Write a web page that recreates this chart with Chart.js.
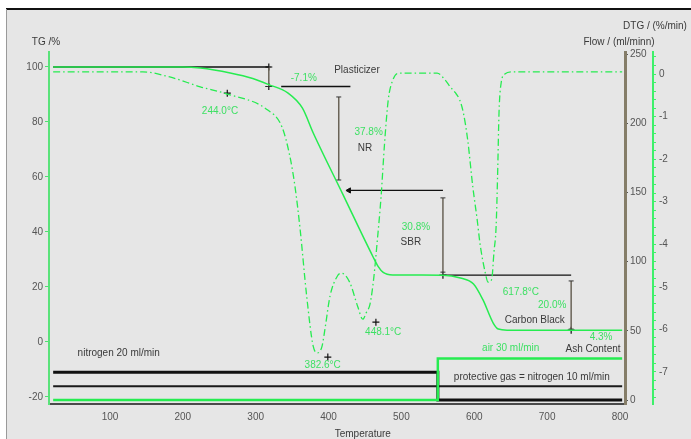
<!DOCTYPE html>
<html>
<head>
<meta charset="utf-8">
<script src="https://cdn.jsdelivr.net/npm/chart.js@4.4.1/dist/chart.umd.min.js"></script>
<style>
  html, body { margin: 0; padding: 0; background: #fff; }
</style>
</head>
<body>
<canvas id="tga" width="691" height="439"></canvas>
<script>
// TG curve (temperature °C, mass %)
const tgTemp = [22, 200, 224, 265, 296, 318, 344, 364, 379, 420, 461, 468, 475, 488, 557, 581, 599, 612, 626, 633, 645, 803];
const tgMass = [100, 100, 99.6, 97.8, 95.8, 93.6, 90.6, 85.1, 76.0, 53.5, 31.0, 27.5, 25.3, 24.4, 24.3, 23.3, 21.1, 15.3, 6.9, 4.7, 4.3, 4.3];

// DTG curve (temperature °C, %/min)
const dtgTemp = [22, 86, 145, 182, 224, 261, 316, 336, 347, 354, 361, 370, 379, 385, 391, 395, 402, 412, 418, 429, 440, 447, 452, 457, 462, 467, 472, 477, 482, 488, 496, 549, 560, 567, 574, 580, 585, 591, 598, 604, 608, 615, 619, 624, 627, 630, 632, 634, 637, 642, 652, 803];
const dtgRate = [0.05, 0.05, 0.05, -0.07, -0.3, -0.47, -0.84, -1.24, -1.94, -2.65, -3.65, -5.22, -6.4, -6.55, -6.4, -6.0, -5.22, -4.75, -4.68, -4.89, -5.46, -5.76, -5.6, -5.4, -4.8, -3.9, -2.9, -1.6, -0.6, -0.15, 0.02, 0.02, -0.14, -0.3, -0.44, -0.61, -0.91, -1.55, -2.65, -3.42, -4.0, -4.66, -4.89, -4.82, -4.19, -3.58, -2.4, -0.9, -0.2, 0.0, 0.05, 0.05];

// purge gas flows (ml/min)
const gasTemp = [22, 550, 550, 803];
const nitrogen20 = [20, 20, 0, 0];
const air30 = [0, 0, 30, 30];
const protTemp = [22, 803];
const nitrogen10 = [10, 10];

// step evaluation (temperature, mass %)
const levelLines = [[[22, 100], [318, 100]], [[335, 92.9], [430, 92.9]], [[428, 55.1], [557, 55.1]], [[557, 24.3], [733, 24.3]]];
const stepLines = [[[318, 100], [318, 92.9]], [[414, 89.1], [414, 58.9]], [[557, 52.4], [557, 25.4]], [[733, 22.2], [733, 4.7]]];
const stepMarks = [[318, 100], [318, 92.9], [557, 24.3], [733, 4.3]];
const peakMarks = [[261, -0.45], [399, -6.65], [465, -5.83]];

// tick values
const tempTicks = [100, 200, 300, 400, 500, 600, 700, 800];
const tgTicks = [-20, 0, 20, 40, 60, 80, 100];
const flowTicks = [0, 50, 100, 150, 200, 250];
const dtgTicks = [0.4, 0.2, 0, -0.2, -0.4, -0.6, -0.8, -1, -1.2, -1.4, -1.6, -1.8, -2, -2.2, -2.4, -2.6, -2.8, -3, -3.2, -3.4, -3.6, -3.8, -4, -4.2, -4.4, -4.6, -4.8, -5, -5.2, -5.4, -5.6, -5.8, -6, -6.2, -6.4, -6.6, -6.8, -7, -7.2, -7.4, -7.6];

// texts: [text, temperature, mass %, green?]
const notes = [
  ['-7.1%', 366, 96.0, true],
  ['Plasticizer', 439, 98.9, false],
  ['37.8%', 455, 76.4, true],
  ['NR', 450, 70.5, false],
  ['30.8%', 520, 41.8, true],
  ['SBR', 513, 36.4, false],
  ['617.8°C', 664, 18.2, true],
  ['20.0%', 707, 13.5, true],
  ['Carbon Black', 683, 8.0, false],
  ['4.3%', 774, 1.8, true],
  ['Ash Content', 763, -2.5, false],
  ['244.0°C', 251, 84.0, true],
  ['382.6°C', 392, -8.4, true],
  ['448.1°C', 475, 3.6, true],
  ['nitrogen 20 ml/min', 112, -4.0, false],
  ['air 30 ml/min', 650, -2.2, true],
  ['protective gas = nitrogen 10 ml/min', 679, -12.7, false]
];

const GREEN = '#26ec50';
const GREEN_TEXT = '#3ee064';
const DARK = '#3a3a3a';
const FONT = '10px "Liberation Sans", Arial, sans-serif';

const pts = (xs, ys) => xs.map((x, i) => ({ x: x, y: ys[i] }));
const segs = (list) => {
  const out = [];
  list.forEach(s => { s.forEach(p => out.push({ x: p[0], y: p[1] })); out.push({ x: s[s.length - 1][0], y: null }); });
  return out;
};
const marks = (list) => list.map(p => ({ x: p[0], y: p[1] }));

const sheet = {
  id: 'sheet',
  beforeDraw(chart) {
    const c = chart.ctx;
    c.save();
    c.fillStyle = '#fff';
    c.fillRect(0, 0, chart.width, chart.height);
    c.fillStyle = '#e6e6e6';
    c.fillRect(6, 9, chart.width - 6, chart.height - 9);
    c.fillStyle = '#111';
    c.fillRect(6, 8, chart.width - 6, 2);
    c.fillStyle = '#9a9a9a';
    c.fillRect(6, 9, 1, chart.height - 9);
    c.restore();
  },
  afterDraw(chart) {
    const c = chart.ctx;
    const s = chart.scales;
    const a = chart.chartArea;
    c.save();
    c.font = FONT;
    c.textAlign = 'center';
    c.textBaseline = 'middle';
    notes.forEach(n => {
      c.fillStyle = n[3] ? GREEN_TEXT : DARK;
      c.fillText(n[0], s.x.getPixelForValue(n[1]), s.tg.getPixelForValue(n[2]));
    });
    c.fillStyle = DARK;
    c.fillText('TG /%', a.left - 3, a.top - 10);
    c.fillText('Flow / (ml/minn)', s.flow.left - 6, a.top - 10);
    c.fillText('DTG / (%/min)', s.dtg.left + 2, a.top - 26);
    c.fillText('Temperature', s.x.getPixelForValue(447), a.bottom + 30);
    c.restore();
  }
};

const ctx = document.getElementById('tga').getContext('2d');
new Chart(ctx, {
  type: 'line',
  data: {
    datasets: [
      { data: pts(tgTemp, tgMass), yAxisID: 'tg', borderColor: GREEN, borderWidth: 1.5, pointRadius: 0, cubicInterpolationMode: 'monotone' },
      { data: pts(dtgTemp, dtgRate), yAxisID: 'dtg', borderColor: GREEN, borderWidth: 1.3, borderDash: [7, 3, 1.5, 3], pointRadius: 0, cubicInterpolationMode: 'monotone' },
      { data: segs(levelLines), yAxisID: 'tg', borderColor: '#111', borderWidth: 1.3, pointRadius: 0, spanGaps: false },
      { data: segs(stepLines), yAxisID: 'tg', borderColor: '#6a6458', borderWidth: 1.5, pointStyle: 'line', pointRadius: 2.5, pointBorderColor: '#333', pointBorderWidth: 1, spanGaps: false },
      { data: marks(stepMarks), yAxisID: 'tg', showLine: false, pointStyle: 'cross', pointRadius: 3.5, pointBorderColor: '#111', pointBorderWidth: 1.2 },
      { data: [{ x: 428, y: 55.1 }], yAxisID: 'tg', showLine: false, pointStyle: 'triangle', rotation: 270, pointRadius: 3, pointBackgroundColor: '#111', pointBorderColor: '#111' },
      { data: marks(peakMarks), yAxisID: 'dtg', showLine: false, pointStyle: 'cross', pointRadius: 3.5, pointBorderColor: '#111', pointBorderWidth: 1.2 },
      { data: pts(gasTemp, air30), yAxisID: 'flow', borderColor: GREEN, borderWidth: 2.5, pointRadius: 0 },
      { data: pts(gasTemp, nitrogen20), yAxisID: 'flow', borderColor: '#111', borderWidth: 3, pointRadius: 0 },
      { data: pts(protTemp, nitrogen10), yAxisID: 'flow', borderColor: '#1a1a1a', borderWidth: 2, pointRadius: 0 }
    ]
  },
  options: {
    responsive: false,
    animation: false,
    layout: { padding: { top: 52, left: 0, right: 0, bottom: 0 } },
    plugins: { legend: { display: false }, tooltip: { enabled: false } },
    scales: {
      x: {
        type: 'linear', position: 'bottom', min: 16.3, max: 806.9,
        afterBuildTicks: s => { s.ticks = tempTicks.map(v => ({ value: v })); },
        afterFit: s => { s.height = 35; },
        grid: { display: true, drawOnChartArea: false, drawTicks: false },
        border: { color: '#4a4a4a', width: 2 },
        ticks: { padding: 7, color: '#555', font: { family: '"Liberation Sans", Arial', size: 10 } }
      },
      tg: {
        type: 'linear', position: 'left', min: -22.55, max: 105.45,
        afterBuildTicks: s => { s.ticks = tgTicks.map(v => ({ value: v })); },
        afterFit: s => { s.width = 49; },
        grid: { drawOnChartArea: false, tickLength: 4, color: '#4ee070' },
        border: { color: '#5ae27a', width: 2 },
        ticks: { padding: 2, color: '#555', font: { family: '"Liberation Sans", Arial', size: 10 } }
      },
      flow: {
        type: 'linear', position: 'right', weight: 0, min: -2.89, max: 251.45,
        afterBuildTicks: s => { s.ticks = flowTicks.map(v => ({ value: v })); },
        afterFit: s => { s.width = 28; },
        grid: { drawOnChartArea: false, tickLength: 3, color: '#555' },
        border: { color: '#857d68', width: 3 },
        ticks: { padding: 2, color: '#555', font: { family: '"Liberation Sans", Arial', size: 10 } }
      },
      dtg: {
        type: 'linear', position: 'right', weight: 1, min: -7.752, max: 0.517,
        afterBuildTicks: s => { s.ticks = dtgTicks.map(v => ({ value: v })); },
        afterFit: s => { s.width = 38; },
        grid: { drawOnChartArea: false, tickLength: 3, color: '#3ef06a' },
        border: { color: '#3ef06a', width: 2 },
        ticks: {
          padding: 3, color: '#555', autoSkip: false,
          font: { family: '"Liberation Sans", Arial', size: 10 },
          callback: v => (Math.abs(v - Math.round(v)) < 1e-6 ? String(Math.round(v) === 0 ? 0 : Math.round(v)) : '')
        }
      }
    }
  },
  plugins: [sheet]
});
</script>
</body>
</html>
